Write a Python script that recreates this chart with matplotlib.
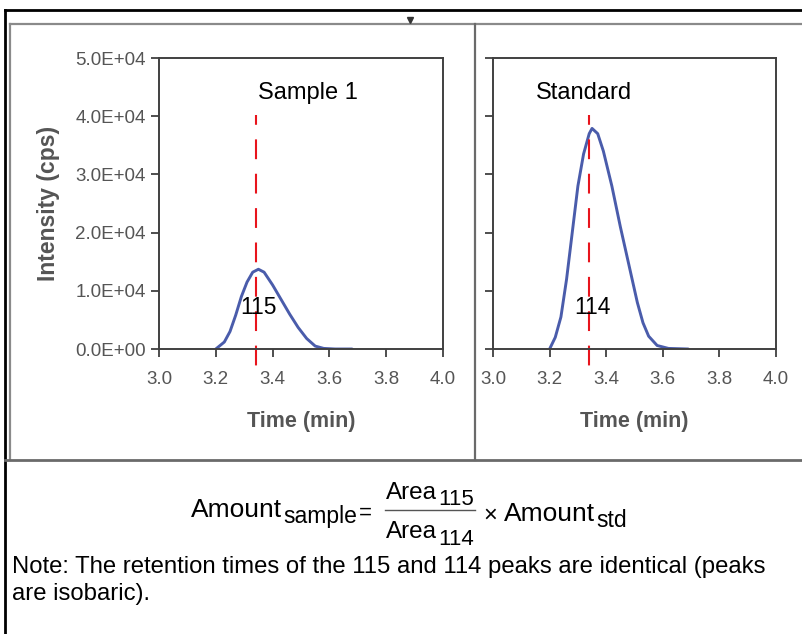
import matplotlib
matplotlib.use("Agg")
import matplotlib.pyplot as plt
from matplotlib.lines import Line2D
from matplotlib.ticker import FuncFormatter

# chromatogram readings (time in min, intensity in cps)
sample_time = [3.20, 3.23, 3.25, 3.27, 3.29, 3.31, 3.33, 3.35, 3.37, 3.40,
               3.43, 3.46, 3.49, 3.52, 3.55, 3.58, 3.62, 3.68]
sample_int = [0, 1200, 3000, 5800, 9000, 11500, 13200, 13700, 13200, 11000,
              8500, 6000, 3700, 1800, 500, 100, 0, 0]

std_time = [3.20, 3.22, 3.24, 3.26, 3.28, 3.30, 3.32, 3.34, 3.35, 3.37,
            3.39, 3.42, 3.45, 3.48, 3.51, 3.53, 3.55, 3.58, 3.62, 3.69]
std_int = [0, 2000, 5500, 12000, 20000, 28000, 33500, 37000, 37900, 37000,
           34000, 28000, 21000, 14500, 8000, 4500, 2200, 600, 100, 0]

retention_time = 3.34
dash_range = [40200, -3100]

panel_titles = ["Sample 1", "Standard"]
peak_labels = ["115", "114"]
x_ticks = [3.0, 3.2, 3.4, 3.6, 3.8, 4.0]
y_ticks = [0, 10000, 20000, 30000, 40000, 50000]

W, H = 802, 634
plt.rcParams["font.family"] = ["Liberation Sans", "DejaVu Sans"]

fig = plt.figure(figsize=(W / 100, H / 100), dpi=100)
renderer = fig.canvas.get_renderer()


def fx(x):
    return x / W


def fy(y):
    return 1 - y / H


def hline(x0, x1, y, color, lw):
    fig.add_artist(Line2D([fx(x0), fx(x1)], [fy(y), fy(y)], color=color,
                          lw=lw, transform=fig.transFigure))


def vline(x, y0, y1, color, lw):
    fig.add_artist(Line2D([fx(x), fx(x)], [fy(y0), fy(y1)], color=color,
                          lw=lw, transform=fig.transFigure))


# outer frame and panel frame
hline(5, W, 10, "black", 2)
vline(5, 10, H, "black", 2)
hline(10, W, 24, "#8a8a8a", 1.6)
vline(10, 24, 460, "#8a8a8a", 1.6)
vline(475, 24, 460, "#6a6a6a", 1.6)
hline(5, W, 460, "#6a6a6a", 2)
fig.add_artist(Line2D([fx(410)], [fy(20)], marker="v", ms=4, color="#333333",
                      transform=fig.transFigure))

gray = "#555555"
axes_px = [(159, 443), (493, 776)]
series = [(sample_time, sample_int), (std_time, std_int)]
title_x = [308, 584]
label_x = [259, 592]
for i, ((x0, x1), (t, y)) in enumerate(zip(axes_px, series)):
    ax = fig.add_axes([fx(x0), fy(349), (x1 - x0) / W, (349 - 58) / H])
    ax.plot(t, y, color="#4a5cab", lw=2.1, solid_capstyle="round",
            solid_joinstyle="round")
    ax.plot([retention_time, retention_time], dash_range, color="#e8141c",
            lw=1.5, linestyle=(4.8, (9.5, 7)), clip_on=False)
    ax.set_xlim(3.0, 4.0)
    ax.set_ylim(0, 50000)
    ax.set_xticks(x_ticks)
    ax.set_yticks(y_ticks)
    ax.xaxis.set_major_formatter(FuncFormatter(lambda v, p: f"{v:.1f}"))
    ax.yaxis.set_major_formatter(FuncFormatter(lambda v, p: f"{v:.1E}"))
    ax.tick_params(direction="out", length=5.5, width=1.3, colors="#404040",
                   labelcolor=gray, labelsize=13.5)
    ax.tick_params(axis="x", pad=10)
    ax.tick_params(axis="y", pad=4)
    for s in ax.spines.values():
        s.set_color("#404040")
        s.set_linewidth(1.4)
    if i == 1:
        ax.tick_params(labelleft=False)
    else:
        ax.set_ylabel("Intensity (cps)", fontsize=16.5, fontweight="bold",
                      color=gray, labelpad=11)
    ax.set_xlabel("Time (min)", fontsize=15.5, fontweight="bold",
                  color=gray, labelpad=17)
    fig.text(fx(title_x[i]), fy(93), panel_titles[i], ha="center",
             va="center", fontsize=17)
    fig.text(fx(label_x[i]), fy(307), peak_labels[i], ha="center",
             va="center", fontsize=16.5)


# quantitation formula, laid out piece by piece
def piece(s, size, base):
    t = fig.text(0, fy(base), s, ha="left", va="baseline", fontsize=size)
    w = t.get_window_extent(renderer).width
    return t, w


def chain(items, x, gap=1):
    for t, w in items:
        t.set_x(fx(x))
        x += w + gap
    return x - gap


left = [piece("Amount", 19, 517), piece("sample", 16.5, 523),
        piece("=", 16, 519)]
num = [piece("Area", 17.5, 499), piece("115", 16, 505)]
den = [piece("Area", 17.5, 538), piece("114", 16, 545)]
times = [piece("\u00d7", 17, 522)]
right = [piece("Amount", 19, 521), piece("std", 16.5, 527)]

frac_w = max(sum(w for _, w in num), sum(w for _, w in den)) + 3
total = (sum(w for _, w in left) + 2 + 14 + frac_w + 8
         + times[0][1] + 7 + sum(w for _, w in right) + 1)
x = 409 - total / 2
x = chain(left, x) + 14
fx0 = x
chain(num, fx0 + 1)
chain(den, fx0 + 1)
hline(fx0, fx0 + frac_w, 510, "#555555", 1.0)
x = chain(times, fx0 + frac_w + 8) + 7
chain(right, x)

fig.text(fx(12), fy(573), "Note: The retention times of the 115 and 114 peaks "
         "are identical (peaks", ha="left", va="baseline", fontsize=17.2)
fig.text(fx(12), fy(600), "are isobaric).", ha="left", va="baseline",
         fontsize=17.2)

fig.savefig("out.png", dpi=100)
